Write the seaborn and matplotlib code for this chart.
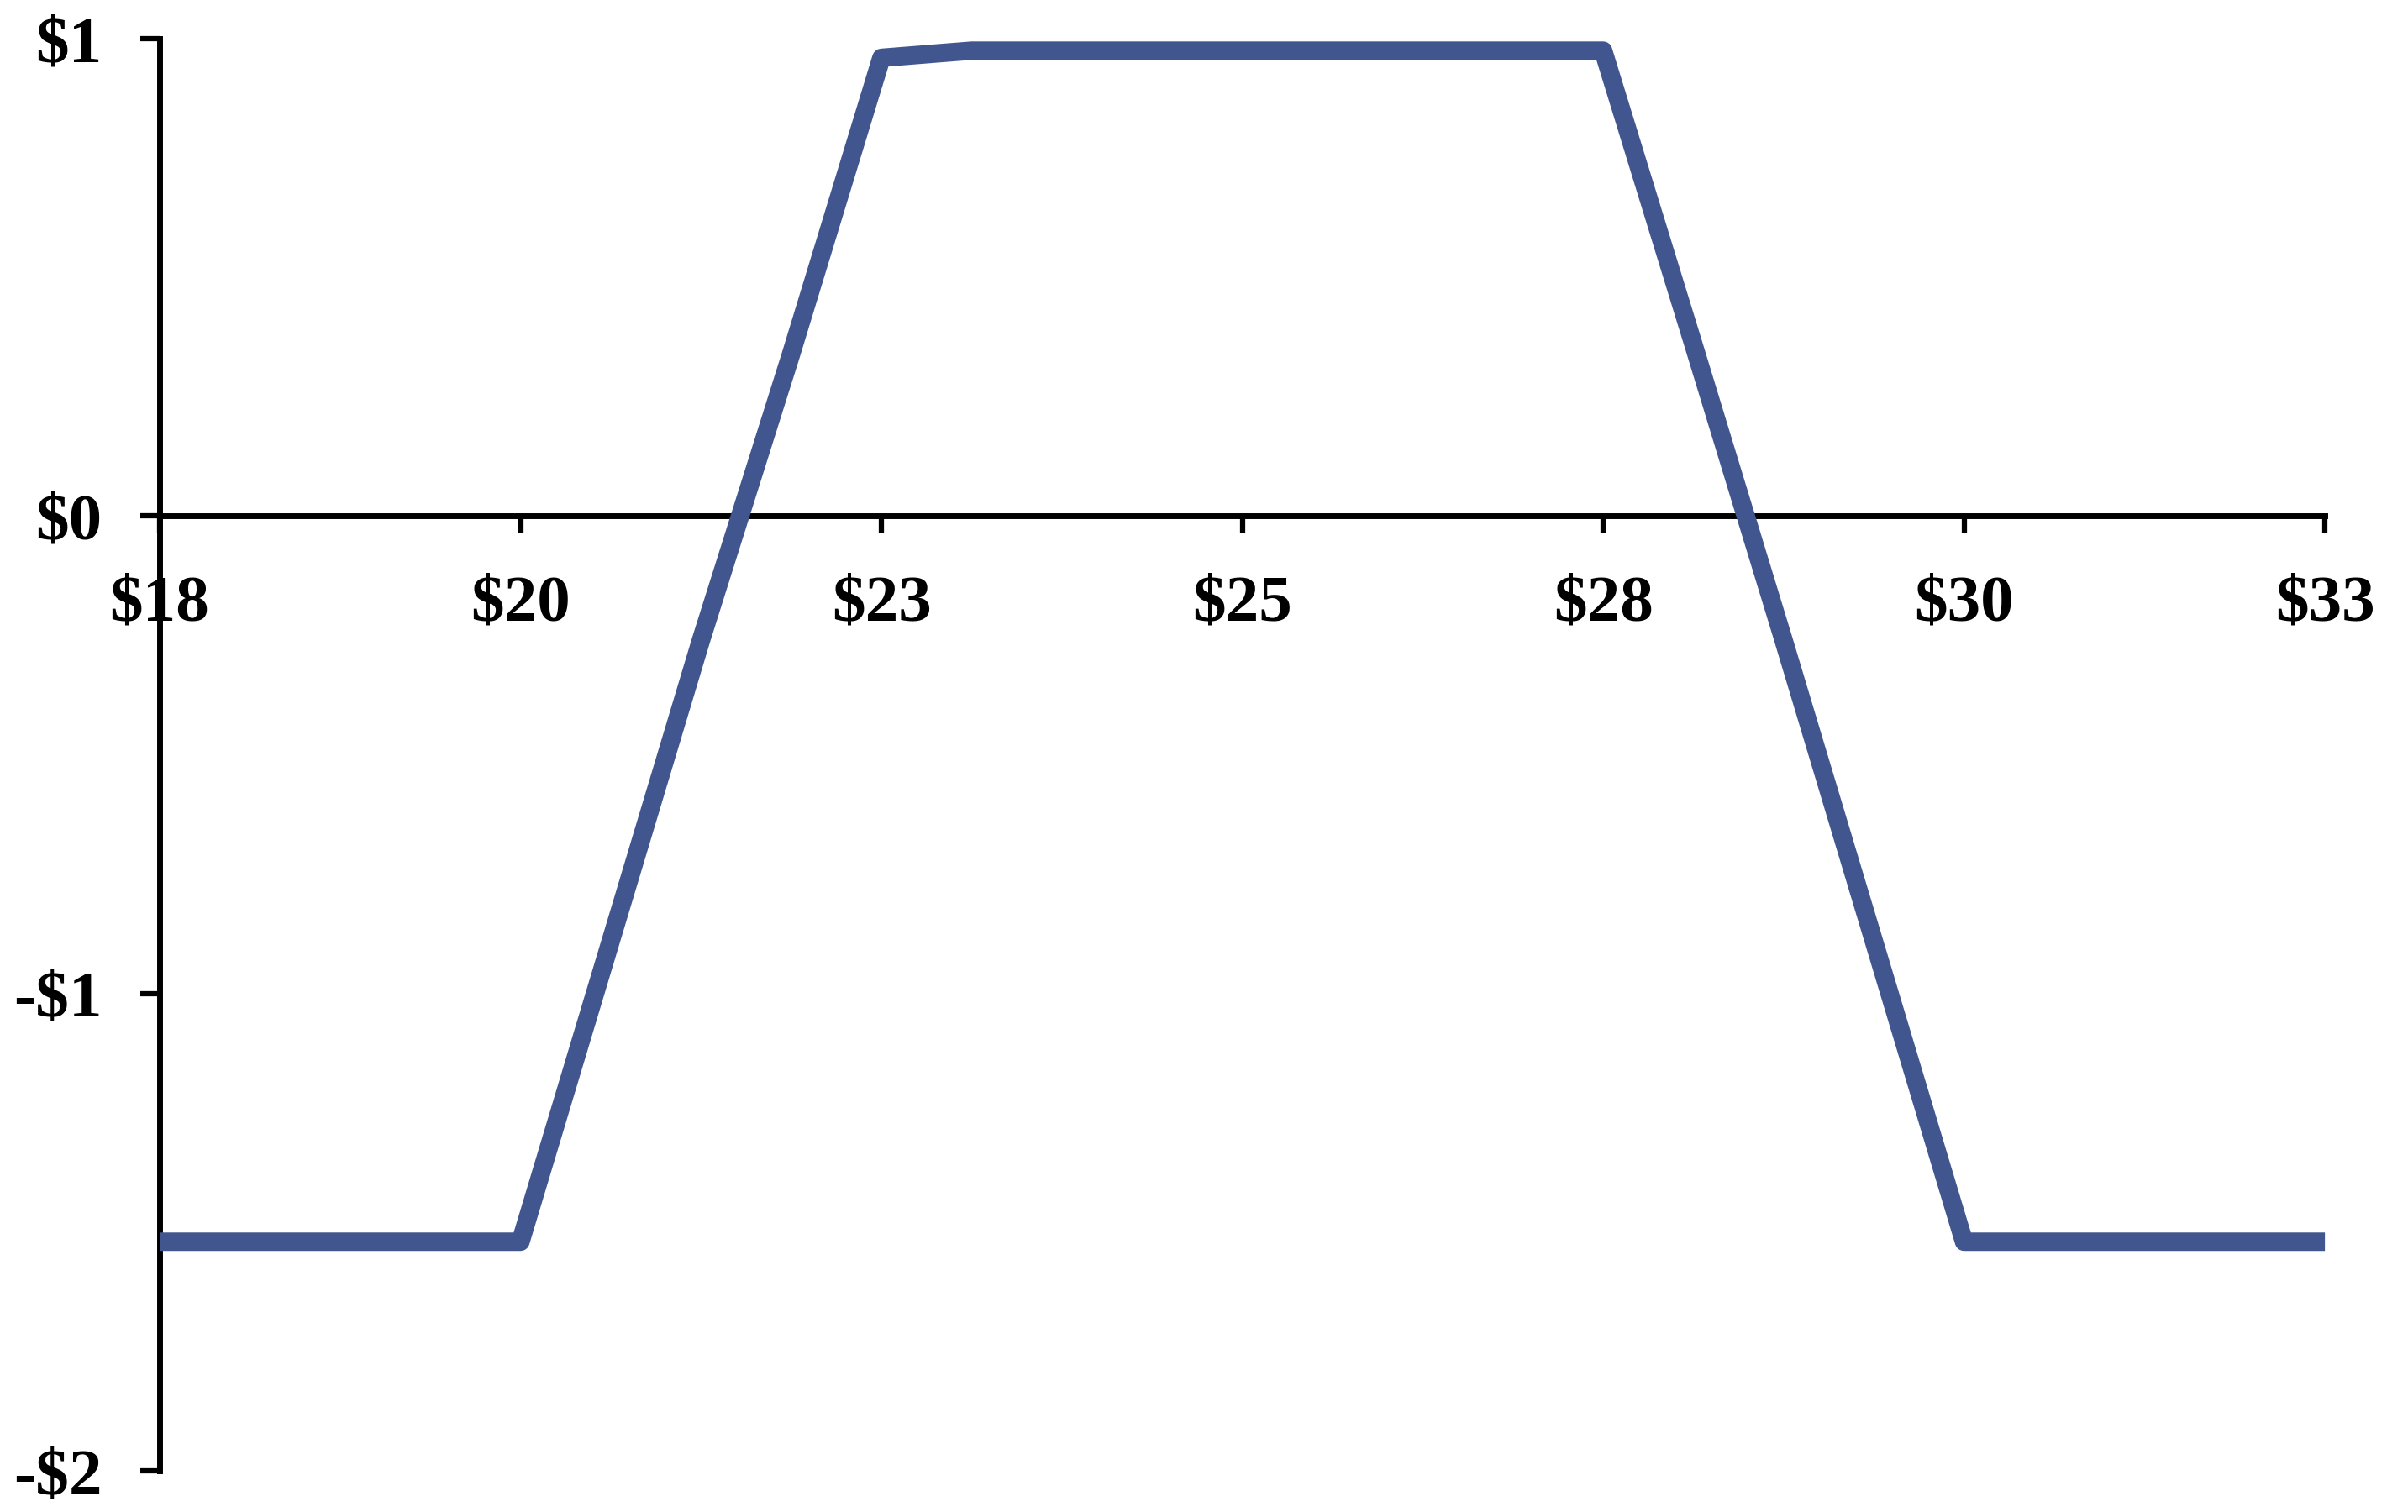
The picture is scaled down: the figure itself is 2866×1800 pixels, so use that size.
import seaborn as sns
import matplotlib.pyplot as plt
import pandas as pd

# data (profit/loss vs. stock price)
stock_price = [17.5, 18.125, 18.75, 19.375, 20.0, 20.625, 21.25, 21.875, 22.5,
               23.125, 23.75, 24.375, 25.0, 25.625, 26.25, 26.875, 27.5,
               28.125, 28.75, 29.375, 30.0, 30.625, 31.25, 31.875, 32.5]
profit = [-1.52, -1.52, -1.52, -1.52, -1.52, -0.89, -0.26, 0.34, 0.96,
          0.975, 0.975, 0.975, 0.975, 0.975, 0.975, 0.975, 0.975,
          0.36, -0.26, -0.89, -1.52, -1.52, -1.52, -1.52, -1.52]

x_ticks = [17.5, 20.0, 22.5, 25.0, 27.5, 30.0, 32.5]
x_tick_labels = ["$18", "$20", "$23", "$25", "$28", "$30", "$33"]
y_ticks = [-2, -1, 0, 1]
y_tick_labels = ["-$2", "-$1", "$0", "$1"]

df = pd.DataFrame({"price": stock_price, "profit": profit})

sns.set_style("white")
plt.rcParams["font.family"] = ["Liberation Serif", "DejaVu Serif"]
plt.rcParams["font.weight"] = "bold"

fig = plt.figure(figsize=(28.66, 18), dpi=100)
ax = fig.add_axes([0.0663, 0.0272, 0.8992, 0.9472])

sns.lineplot(data=df, x="price", y="profit", ax=ax, sort=False,
             color="#41568F", linewidth=15.8, clip_on=False,
             solid_joinstyle="round", solid_capstyle="butt")

ax.set_xlim(17.5, 32.5)
ax.set_ylim(-2, 1)
ax.set_xlabel("")
ax.set_ylabel("")

# Excel-like axes: horizontal axis crosses at zero
for side in ["top", "right"]:
    ax.spines[side].set_visible(False)
ax.spines["bottom"].set_position(("data", 0))
for side in ["left", "bottom"]:
    ax.spines[side].set_linewidth(5)
    ax.spines[side].set_color("black")
    ax.spines[side].set_zorder(1)

ax.set_xticks(x_ticks)
ax.set_xticklabels(x_tick_labels)
ax.set_yticks(y_ticks)
ax.set_yticklabels(y_tick_labels)

ax.tick_params(axis="x", bottom=True, direction="out", length=14.5, width=4.5,
               pad=36, labelsize=57, colors="black")
ax.tick_params(axis="y", left=True, direction="out", length=16.5, width=4.5,
               pad=33, labelsize=57, colors="black")
for lbl in ax.get_xticklabels() + ax.get_yticklabels():
    lbl.set_fontweight("bold")

ax.grid(False)

plt.savefig("out.png", dpi=100)
plt.close()
